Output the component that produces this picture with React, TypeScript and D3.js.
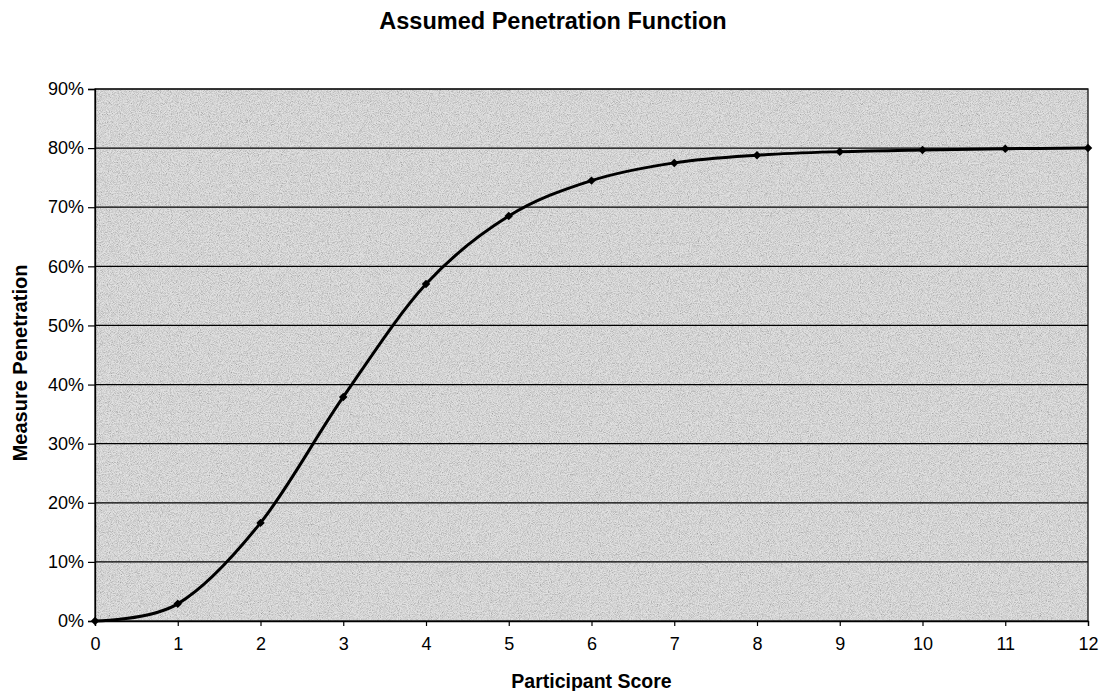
import React, { useEffect, useRef } from 'react'
import * as d3 from 'd3'

// participant score (x) and assumed penetration (y)
const scores = [0, 1, 2, 3, 4, 5, 6, 7, 8, 9, 10, 11, 12]
const penetration = [0.0, 0.029, 0.166, 0.379, 0.57, 0.685, 0.745, 0.775, 0.788, 0.794, 0.797, 0.799, 0.8]
const yTicks = [0, 0.1, 0.2, 0.3, 0.4, 0.5, 0.6, 0.7, 0.8, 0.9]

const W = 1105
const H = 691

const App: React.FC = () => {
  const svgRef = useRef<SVGSVGElement>(null)

  useEffect(() => {
    if (!svgRef.current) return
    const svg = d3.select(svgRef.current)
    svg.selectAll('*').remove()

    const margin = { top: 89, right: 17, bottom: 70, left: 95 }
    const width = W - margin.left - margin.right
    const height = H - margin.top - margin.bottom
    const font = 'Liberation Sans, Arial, sans-serif'

    // speckled grey background like the scanned original
    const defs = svg.append('defs')
    const filter = defs.append('filter').attr('id', 'grain')
      .attr('x', 0).attr('y', 0).attr('width', 1).attr('height', 1)
      .attr('filterUnits', 'objectBoundingBox')
    filter.append('feTurbulence')
      .attr('type', 'fractalNoise').attr('baseFrequency', 1.1).attr('numOctaves', 2).attr('seed', 5)
      .attr('result', 'noise')
    filter.append('feColorMatrix').attr('in', 'noise').attr('type', 'matrix')
      .attr('values', '1.6 0 0 0 -0.1  1.6 0 0 0 -0.1  1.6 0 0 0 -0.1  0 0 0 0 0.4')
      .attr('result', 'speck')
    filter.append('feComposite').attr('in', 'speck').attr('in2', 'SourceGraphic').attr('operator', 'in')

    const g = svg.append('g').attr('transform', `translate(${margin.left},${margin.top})`)

    const x = d3.scaleLinear().domain([0, 12]).range([0, width])
    const y = d3.scaleLinear().domain([0, 0.9]).range([height, 0])

    g.append('rect').attr('width', width).attr('height', height).attr('fill', '#cfcfcf')
    g.append('rect').attr('width', width).attr('height', height).attr('fill', '#cfcfcf')
      .attr('filter', 'url(#grain)')

    // gridlines
    g.selectAll('.grid')
      .data(yTicks.slice(1))
      .enter()
      .append('line')
      .attr('x1', 0).attr('x2', width)
      .attr('y1', d => y(d)).attr('y2', d => y(d))
      .attr('stroke', '#000').attr('stroke-width', 1.2)

    g.append('rect').attr('width', width).attr('height', height)
      .attr('fill', 'none').attr('stroke', '#111').attr('stroke-width', 1.3)

    const xAxis = g.append('g')
      .attr('transform', `translate(0,${height})`)
      .call(d3.axisBottom(x).tickValues(scores).tickFormat(d3.format('d')).tickSize(5).tickPadding(11))
    const yAxis = g.append('g')
      .call(d3.axisLeft(y).tickValues(yTicks).tickFormat(d3.format('.0%')).tickSize(7).tickPadding(4))

    for (const ax of [xAxis, yAxis]) {
      ax.select('.domain').attr('stroke', '#000').attr('stroke-width', 1.3)
      ax.selectAll('line').attr('stroke', '#000').attr('stroke-width', 1.2)
      ax.selectAll('text').attr('fill', '#000').style('font-size', '18px').style('font-family', font)
    }

    const line = d3.line<number>()
      .x((d, i) => x(scores[i]))
      .y(d => y(d))
      .curve(d3.curveCatmullRom.alpha(0))

    g.append('path')
      .datum(penetration)
      .attr('d', line)
      .attr('fill', 'none')
      .attr('stroke', '#000')
      .attr('stroke-width', 3)

    g.selectAll('.pt')
      .data(penetration)
      .enter()
      .append('rect')
      .attr('x', (d, i) => x(scores[i]) - 3)
      .attr('y', d => y(d) - 3)
      .attr('width', 6).attr('height', 6)
      .attr('transform', (d, i) => `rotate(45,${x(scores[i])},${y(d)})`)
      .attr('fill', '#000')

    svg.append('text')
      .attr('x', 553).attr('y', 29)
      .attr('text-anchor', 'middle')
      .style('font-family', font).style('font-size', '23.5px').style('font-weight', 'bold')
      .text('Assumed Penetration Function')

    svg.append('text')
      .attr('x', margin.left + width / 2).attr('y', 688)
      .attr('text-anchor', 'middle')
      .style('font-family', font).style('font-size', '19.5px').style('font-weight', 'bold')
      .text('Participant Score')

    svg.append('text')
      .attr('transform', `translate(27,${margin.top + height / 2 + 8}) rotate(-90)`)
      .attr('text-anchor', 'middle')
      .style('font-family', font).style('font-size', '20px').style('font-weight', 'bold')
      .text('Measure Penetration')
  }, [])

  return (
    <svg
      ref={svgRef}
      width={W}
      height={H}
      style={{ position: 'absolute', left: 0, top: 0, background: '#fff' }}
    />
  )
}

export default App
